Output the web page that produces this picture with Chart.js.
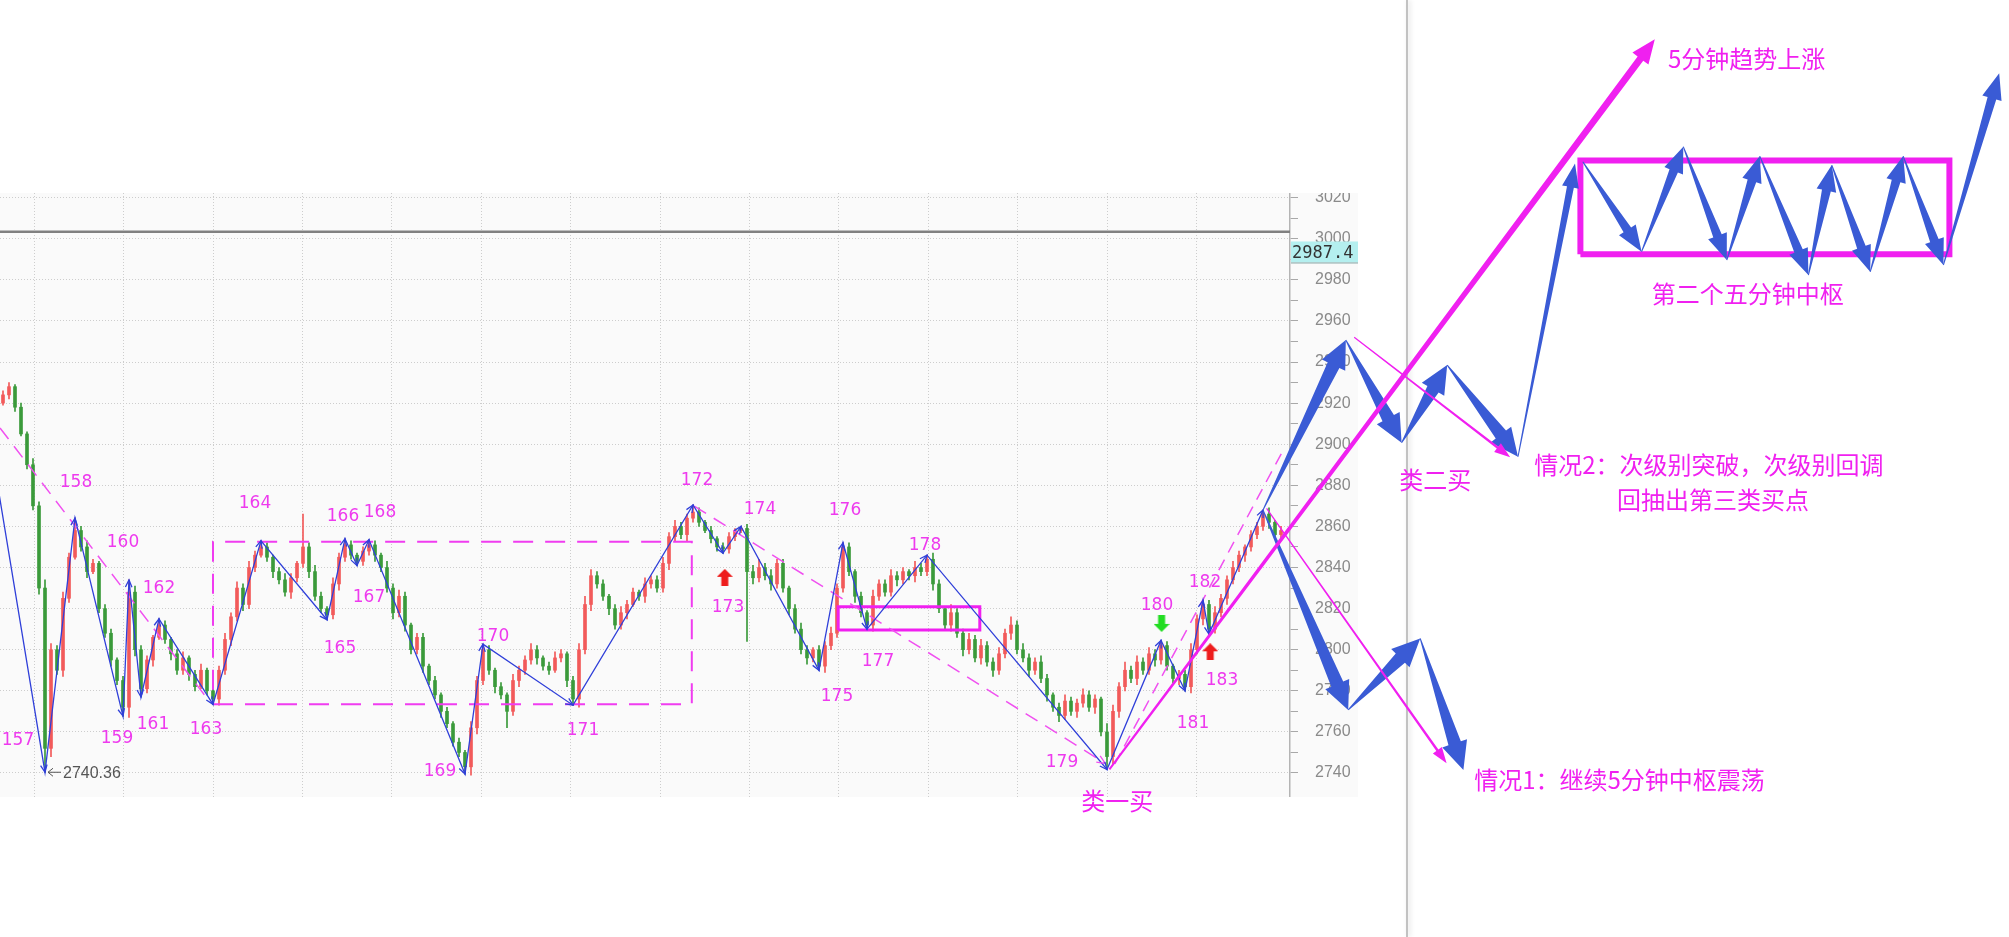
<!DOCTYPE html>
<html>
<head>
<meta charset="utf-8">
<script src="https://cdn.jsdelivr.net/npm/chart.js@4.4.1/dist/chart.umd.min.js"></script>
<style>
  html, body { margin: 0; padding: 0; background: #fff; }
  #page { position: relative; width: 2009px; height: 937px; overflow: hidden; background: #fff; }
  #kline { position: absolute; left: 0; top: 193px; background: #fafafa; }
  #divider { position: absolute; left: 1406px; top: 0; width: 2px; height: 937px; background: #c2c2c2; box-shadow: 2px 0 5px rgba(0,0,0,.15); }
  #plan { position: absolute; left: 0; top: 0; }
</style>
</head>
<body>
<div id="page">
  <canvas id="kline" width="1358" height="604"></canvas>
  <div id="divider"></div>
  <canvas id="plan" width="2009" height="937"></canvas>
</div>
<script>
// ---- 1分钟K线 ----
const firstOpen = 2920;
const closes = [
  2924,2928,2918,2905,2890,2870,2830,2752,2800,2790,
  2825,2845,2858,2850,2838,2842,2820,2808,2795,2785,
  2772,2828,2800,2781,2795,2806,2812,2805,2798,2790,
  2796,2788,2782,2790,2780,2776,2790,2805,2816,2830,
  2822,2840,2846,2850,2845,2838,2834,2828,2835,2842,
  2850,2838,2826,2820,2817,2832,2845,2851,2846,2843,
  2848,2851,2846,2840,2830,2818,2826,2812,2800,2806,
  2792,2785,2778,2770,2764,2755,2750,2743,2762,2785,
  2800,2790,2782,2778,2770,2785,2790,2795,2800,2796,
  2792,2790,2796,2798,2785,2776,2800,2822,2836,2832,
  2826,2820,2812,2818,2822,2828,2826,2832,2834,2830,
  2842,2855,2860,2856,2864,2867,2862,2858,2854,2850,
  2849,2855,2858,2859,2838,2835,2840,2836,2832,2842,
  2830,2820,2810,2800,2796,2800,2792,2802,2808,2830,
  2850,2838,2826,2818,2812,2826,2832,2828,2836,2834,
  2838,2836,2840,2838,2844,2832,2820,2812,2818,2808,
  2800,2805,2796,2802,2794,2790,2798,2808,2812,2800,
  2796,2790,2794,2786,2778,2772,2768,2775,2770,2774,
  2778,2772,2776,2760,2748,2770,2782,2790,2786,2794,
  2790,2798,2795,2802,2792,2786,2788,2782,2800,2815,
  2822,2810,2818,2825,2834,2840,2846,2850,2856,2860,
  2866,2862,2856,2858
];
const upWick = [
  2,2,1,2,1,3,2,4,3,2, 3,2,6,2,3,2,1,2,2,1,
  2,6,3,2,2,1,3,2,1,2, 3,1,2,3,1,2,2,3,2,3,
  2,3,2,3,2,1,2,3,2,1, 16,2,3,2,1,3,2,3,2,1,
  2,2.5,2,1,3,2,3,2,1,2, 2,1,2,1,2,1,2,1,3,2,
  2.7,2,1,2,1,3,2,2,3,2, 1,2,3,2,1,2,3,4,3,2,
  2,1,2,3,2,2,1,3,2,2, 3,2,3,2,2,3.4,2,1,2,1,
  2,2,1,1,2,3,4,2,3,2, 2,1,2,3,2,1,2,2,3,2,
  2,2,1,2,1,3,2,2,3,2, 2,1,3,2,2,3,2,1,4,2,
  2,3,2,3,2,2,3,2,4,2, 3,2,2,3,2,1,2,3,2,2,
  3,2,2,1,4,3,2,4,2,3, 2,3,2,2.5,2,1,2,2,3,2,
  2,2,3,2,2,3,2,1,2,2, 2,3,1,2
];
const downWick = [
  1,2,2,1,2,2,3,11.6,4,2, 3,2,1,2,3,1,2,2,3,2,
  4.3,5,3,4,2,3,1,2,3,2, 2,3,2,1,2,2.6,3,2,3,2,
  3,2,2,1,2,3,2,2,3,2, 2,3,2,2,2.4,2,3,2,2,2,
  2,2,3,2,2,3,2,3,2,2, 3,2,2,3,2,2,2,3.5,4,3,
  2,2,3,2,8,2,3,2,2,3, 2,2,1,2,3,3,4,2,3,2,
  2,3,2,2,3,1,2,3,2,2, 2,3,2,2,3,2,2,1,2,2,
  2,2,2,1,34,3,2,2,3,2, 2,3,2,2,3,2,2,3,2,2,
  2,2,3,2,2,3,2,2,2,3, 2,2,3,2,2,3,2,2,3,2,
  3,2,2,3,2,3,2,2,3,2, 2,3,2,2,3,2,3,2,2,3,
  2,2,3,2,6.3,4,3,2,2,3, 2,2,3,2,2,2,3,2,3,2,
  3,2.4,2,2,3,2,2,3,2,2, 2,3,2,3
];

// ---- 笔 (bar index / price) ----
const strokeIdx = [-4, 7, 12, 20, 21, 23, 26, 35, 43, 54, 57, 59, 61, 77, 80, 95, 115, 120, 123, 136, 140, 144, 154, 184, 193, 197, 200, 201, 210];
const strokeVal = [2935, 2740.36, 2864, 2767.7, 2834, 2777, 2815, 2773.4, 2853, 2814.6, 2854, 2841, 2853.5, 2739.5, 2802.7, 2773, 2870.4, 2847, 2860, 2790, 2852, 2810, 2846, 2741.7, 2804.5, 2780, 2824, 2807.6, 2868];
const strokeNames = ['', '157', '158', '159', '160', '161', '162', '163', '164', '165', '166', '167', '168', '169', '170', '171', '172', '173', '174', '175', '176', '177', '178', '179', '180', '181', '182', '183', ''];
const labelDx = [0, -27, 1, -6, -6, 12, 0, -7, -6, 13, -2, 12, 11, -25, 10, 10, 4, 5, 19, 18, 2, 11, -2, -45, -4, 8, 2, 13, 0];
const labelDy = [0, -32, -36, 23, -37, 28, -30, 25, -37, 29, -22, 32, -27, -2, -8, 25, -24, 54, -17, 26, -32, 32, -10, -7, -35, 33, -18, 46, 0];

// 买卖信号
const signalIdx = [120.3, 193.1, 201.2];
const signalVal = [2835.2, 2812.8, 2799];
const signalUp = [true, false, true];

// 中枢 / 辅助线
const zoneIdx = [35, 114.8];
const zoneVal = [2773.4, 2852.5];
const boxIdx = [139.2, 162.8];
const boxVal = [2809.6, 2820.9];
const guideAIdx = [-0.5, 34.5];
const guideAVal = [2907.9, 2774.5];
const guideBIdx = [115.2, 183.7];
const guideBVal = [2869.9, 2744.7];
const channelIdx = [185.3, 213.2];
const channelVal = [2744.4, 2896.2];
const refLevel = 3003.4;
const lastPrice = '2987.4';
const tagLevel = 2993.3;

const yTicks = [2740,2750,2760,2770,2780,2790,2800,2810,2820,2830,2840,2850,2860,2870,2880,2890,2900,2910,2920,2930,2940,2950,2960,2970,2980,2990,3000,3010,3020];
const xGridTicks = [5.2, 20.1, 35, 49.9, 64.8, 79.7, 94.6, 109.5, 124.4, 139.3, 154.2, 169.1, 184, 198.9];

// ---- 后市推演 ----
const case2Idx = [210, 223.8, 233.1, 240.7, 252.5];
const case2Val = [2868, 2950.7, 2900.7, 2938.5, 2893.9];
const breakIdx = [252.5, 262];
const breakVal = [2893.9, 3036.6];
const hubIdx = [263.3, 273.1, 280.05, 287.3, 292.8, 300.9, 304.8, 311.2, 316.7, 323.4, 332.7];
const hubVal = [3037.4, 2993.7, 3044.8, 2989.6, 3040.2, 2982.3, 3035.8, 2983.9, 3040.2, 2987.2, 3080.5];
const case1Idx = [210, 224.2, 236.2, 243.4];
const case1Val = [2868, 2770.7, 2805.5, 2741.5];
const trendIdx = [184.4, 275.3];
const trendVal = [2741.8, 3097];
const hint1Idx = [210.6, 240.6];
const hint1Val = [2868.8, 2744.7];
const hint2Idx = [225.2, 251.2];
const hint2Val = [2952, 2893.6];
const hubBoxIdx = [262.9, 324.4];
const hubBoxVal = [2992.4, 3038.1];

const noteText = ['5分钟趋势上涨', '第二个五分钟中枢', '类二买', '情况2：次级别突破，次级别回调', '回抽出第三类买点', '情况1：继续5分钟中枢震荡', '类一买'];
const noteIdx = [277.5, 274.8, 232.7, 255.2, 269, 245.2, 179.7];
const noteVal = [3087.4, 2973.1, 2882.8, 2889.9, 2872.8, 2736.6, 2726.4];

const BLUE = '#2f3fd9', FAT = '#3a5bd5', PINK = '#f020f0', LABEL = '#ee3aee';

const pts = (xs, ys) => xs.map((v, i) => ({x: v, y: ys[i]}));
const rect = (xs, ys) => pts([xs[0], xs[1], xs[1], xs[0], xs[0]], [ys[0], ys[0], ys[1], ys[1], ys[0]]);

// candles
const bodies = [], wicks = [], candleColors = [];
let prev = firstOpen;
closes.forEach((c, i) => {
  const o = prev;
  bodies.push({x: i, y: [o, c]});
  wicks.push({x: i, y: [Math.min(o, c) - downWick[i], Math.max(o, c) + upWick[i]]});
  candleColors.push(c >= o ? '#f25a5a' : '#3a9a3a');
  prev = c;
});

function signalIcon(color, up) {
  const c = document.createElement('canvas');
  c.width = 16; c.height = 17;
  const g = c.getContext('2d');
  const p = up ? [[8,0],[16,8],[11.5,8],[11.5,17],[4.5,17],[4.5,8],[0,8]]
               : [[8,17],[16,9],[11.5,9],[11.5,0],[4.5,0],[4.5,9],[0,9]];
  g.fillStyle = color;
  g.beginPath();
  p.forEach(([a, b], k) => k ? g.lineTo(a, b) : g.moveTo(a, b));
  g.closePath();
  g.fill();
  return c;
}

function taper(ctx, a, b, s) {
  const dx = b.x - a.x, dy = b.y - a.y, len = Math.hypot(dx, dy);
  const ux = dx / len, uy = dy / len, nx = -uy, ny = ux;
  const hx = b.x - ux * s.hl, hy = b.y - uy * s.hl;
  ctx.beginPath();
  ctx.moveTo(a.x + nx * s.w0 / 2, a.y + ny * s.w0 / 2);
  ctx.lineTo(hx + nx * s.w1 / 2, hy + ny * s.w1 / 2);
  ctx.lineTo(hx + nx * s.hw / 2, hy + ny * s.hw / 2);
  ctx.lineTo(b.x, b.y);
  ctx.lineTo(hx - nx * s.hw / 2, hy - ny * s.hw / 2);
  ctx.lineTo(hx - nx * s.w1 / 2, hy - ny * s.w1 / 2);
  ctx.lineTo(a.x - nx * s.w0 / 2, a.y - ny * s.w0 / 2);
  ctx.closePath();
  ctx.fillStyle = s.color;
  ctx.fill();
}

function vHead(ctx, a, b, size, color) {
  const ang = Math.atan2(b.y - a.y, b.x - a.x);
  ctx.beginPath();
  ctx.moveTo(b.x - size * Math.cos(ang - 0.42), b.y - size * Math.sin(ang - 0.42));
  ctx.lineTo(b.x, b.y);
  ctx.lineTo(b.x - size * Math.cos(ang + 0.42), b.y - size * Math.sin(ang + 0.42));
  ctx.setLineDash([]);
  ctx.strokeStyle = color;
  ctx.lineWidth = 1.3;
  ctx.stroke();
}

function drawArrows(chart) {
  const ctx = chart.ctx;
  ctx.save();
  chart.data.datasets.forEach((ds, di) => {
    const p = chart.getDatasetMeta(di).data;
    for (let i = 1; i < p.length; i++) {
      if (ds.arrow) taper(ctx, p[i - 1], p[i], ds.arrow);
      if (ds.heads) vHead(ctx, p[i - 1], p[i], ds.heads, ds.borderColor);
    }
  });
  ctx.restore();
}

const klinePainter = {
  id: 'klinePainter',
  afterDatasetsDraw(chart) {
    const {ctx, scales: {x, y}} = chart;
    drawArrows(chart);
    ctx.save();
    ctx.font = '17px "DejaVu Sans"';
    ctx.fillStyle = LABEL;
    ctx.textAlign = 'center';
    ctx.textBaseline = 'middle';
    strokeNames.forEach((t, i) => {
      if (!t) return;
      ctx.fillText(t, x.getPixelForValue(strokeIdx[i]) + labelDx[i], y.getPixelForValue(strokeVal[i]) + labelDy[i]);
    });
    // 最低价标注
    const lx = x.getPixelForValue(strokeIdx[1]), ly = y.getPixelForValue(strokeVal[1]);
    ctx.strokeStyle = '#555'; ctx.lineWidth = 1;
    ctx.beginPath();
    ctx.moveTo(lx + 16, ly); ctx.lineTo(lx + 3, ly);
    ctx.moveTo(lx + 8, ly - 4); ctx.lineTo(lx + 3, ly); ctx.lineTo(lx + 8, ly + 4);
    ctx.stroke();
    ctx.font = '16px "Liberation Sans"';
    ctx.fillStyle = '#555';
    ctx.textAlign = 'left';
    ctx.fillText(String(strokeVal[1]), lx + 18, ly + 1);
    ctx.restore();
  },
  afterDraw(chart) {
    const {ctx, chartArea, scales: {y}} = chart;
    const cy = y.getPixelForValue(tagLevel);
    ctx.save();
    ctx.fillStyle = '#b4efef';
    ctx.fillRect(chartArea.right + 1, cy - 11, chart.width - chartArea.right, 22);
    ctx.fillStyle = '#aaa';
    ctx.fillRect(chartArea.right + 1, cy + 10, chart.width - chartArea.right, 1);
    ctx.font = '17px "DejaVu Sans Mono"';
    ctx.fillStyle = '#333';
    ctx.textBaseline = 'middle';
    ctx.fillText(lastPrice, chartArea.right + 2, cy + 1);
    ctx.restore();
  }
};

new Chart(document.getElementById('kline'), {
  type: 'bar',
  data: {
    datasets: [
      {data: wicks, backgroundColor: candleColors, barThickness: 1, grouped: false, order: 10},
      {data: bodies, backgroundColor: candleColors, barThickness: 3, grouped: false, minBarLength: 1, order: 9},
      {type: 'line', data: pts([-1, 215], [refLevel, refLevel]), borderColor: '#808080', borderWidth: 2.5, pointRadius: 0, order: 8},
      {type: 'line', data: rect(zoneIdx, zoneVal), borderColor: '#f03cf0', borderWidth: 2, borderDash: [20, 12], pointRadius: 0, order: 7},
      {type: 'line', data: rect(boxIdx, boxVal), borderColor: PINK, borderWidth: 3, pointRadius: 0, order: 7},
      {type: 'line', data: pts(guideAIdx, guideAVal), borderColor: '#f050f0', borderWidth: 1.5, borderDash: [14, 9], pointRadius: 0, order: 6},
      {type: 'line', data: pts(guideBIdx, guideBVal), borderColor: '#f050f0', borderWidth: 1.5, borderDash: [14, 9], pointRadius: 0, heads: 9, order: 6},
      {type: 'line', data: pts(channelIdx, channelVal), borderColor: '#f050f0', borderWidth: 1.5, borderDash: [12, 8], pointRadius: 0, order: 6},
      {type: 'line', data: pts(strokeIdx, strokeVal), borderColor: BLUE, borderWidth: 1.3, pointRadius: 0, heads: 8, order: 2},
      {type: 'line', data: pts(signalIdx, signalVal), showLine: false, pointRadius: 8,
        pointStyle: signalUp.map(u => u ? signalIcon('#ee1c1c', true) : signalIcon('#22dd22', false)), order: 1}
    ]
  },
  options: {
    responsive: false,
    animation: false,
    events: [],
    layout: {padding: 0, autoPadding: false},
    plugins: {legend: {display: false}, tooltip: {enabled: false}},
    scales: {
      x: {
        type: 'linear', min: -0.5, max: 214.5, offset: false,
        grid: {offset: false, color: '#cdcdcd', drawTicks: false},
        border: {display: false, dash: [1, 2]},
        ticks: {display: false},
        afterBuildTicks: s => { s.ticks = xGridTicks.map(v => ({value: v})); },
        afterFit: s => { s.height = 0; s.paddingLeft = 0; s.paddingRight = 0; s.paddingTop = 0; s.paddingBottom = 0; }
      },
      y: {
        position: 'right', min: 2728.32, max: 3022.24, offset: false,
        afterBuildTicks: s => { s.ticks = yTicks.map(v => ({value: v})); },
        afterFit: s => { s.width = 68; s.paddingTop = 0; s.paddingBottom = 0; s.paddingLeft = 0; s.paddingRight = 0; },
        grid: {
          color: c => (c.tick && c.tick.value % 20 === 0) ? '#cdcdcd' : 'rgba(0,0,0,0)',
          tickColor: '#a8a8a8', tickLength: 8
        },
        border: {display: true, color: '#b4b4b4', width: 1.5, dash: [1, 2]},
        ticks: {
          autoSkip: false, padding: 17, crossAlign: 'near', color: '#8a8a8a',
          font: {family: 'Liberation Sans', size: 16},
          callback: v => (v % 20 === 0 ? String(v) : '')
        }
      }
    }
  },
  plugins: [klinePainter]
});

const planPainter = {
  id: 'planPainter',
  afterDatasetsDraw(chart) {
    const {ctx, scales: {x, y}} = chart;
    drawArrows(chart);
    ctx.save();
    ctx.font = '24px "Noto Sans CJK SC"';
    ctx.fillStyle = PINK;
    ctx.textBaseline = 'middle';
    noteText.forEach((t, i) => ctx.fillText(t, x.getPixelForValue(noteIdx[i]), y.getPixelForValue(noteVal[i])));
    ctx.restore();
  }
};

const bigArrow = {w0: 1, w1: 13, hw: 26, hl: 28, color: FAT};
const hubArrow = {w0: 1, w1: 9, hw: 20, hl: 26, color: FAT};

new Chart(document.getElementById('plan'), {
  type: 'line',
  data: {
    datasets: [
      {data: rect(hubBoxIdx, hubBoxVal), borderColor: PINK, borderWidth: 6, borderJoinStyle: 'miter', pointRadius: 0},
      {data: pts(case2Idx, case2Val), showLine: false, pointRadius: 0, arrow: bigArrow},
      {data: pts(case1Idx, case1Val), showLine: false, pointRadius: 0, arrow: bigArrow},
      {data: pts(breakIdx, breakVal), showLine: false, pointRadius: 0, arrow: {w0: 1, w1: 7, hw: 17, hl: 24, color: FAT}},
      {data: pts(hubIdx, hubVal), showLine: false, pointRadius: 0, arrow: hubArrow},
      {data: pts(hint1Idx, hint1Val), showLine: false, pointRadius: 0, arrow: {w0: 1.2, w1: 2.5, hw: 11, hl: 16, color: PINK}},
      {data: pts(hint2Idx, hint2Val), showLine: false, pointRadius: 0, arrow: {w0: 1.2, w1: 2.5, hw: 11, hl: 16, color: PINK}},
      {data: pts(trendIdx, trendVal), showLine: false, pointRadius: 0, arrow: {w0: 2, w1: 7, hw: 20, hl: 24, color: PINK}}
    ]
  },
  options: {
    responsive: false,
    animation: false,
    events: [],
    layout: {padding: 0, autoPadding: false},
    plugins: {legend: {display: false}, tooltip: {enabled: false}},
    scales: {
      x: {type: 'linear', display: false, min: -0.5, max: 334.333},
      y: {display: false, min: 2660.2, max: 3116.15}
    }
  },
  plugins: [planPainter]
});
</script>
</body>
</html>
